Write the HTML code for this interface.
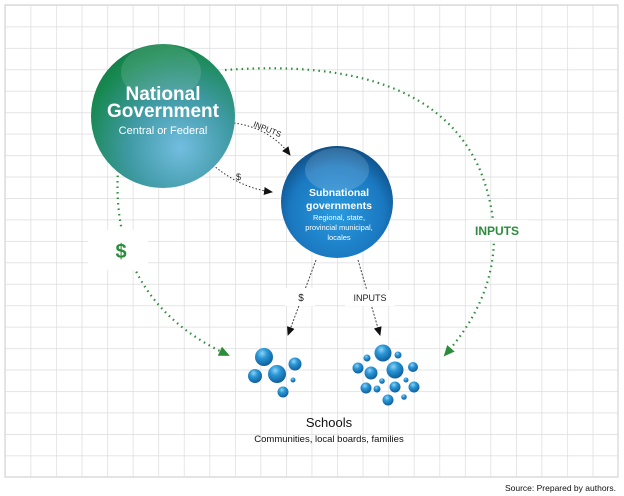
<!DOCTYPE html>
<html><head><style>body{margin:0;background:#fff}svg{display:block}</style></head><body>
<svg width="624" height="496" xmlns="http://www.w3.org/2000/svg" font-family="Liberation Sans, sans-serif">
<defs>
<pattern id="g" x="5" y="5" width="25.55" height="21.45" patternUnits="userSpaceOnUse"><path d="M0 0H25.55M0 0V21.45" stroke="#dcdcdf" stroke-width="1.4" fill="none"/></pattern>
<radialGradient id="ng" cx="0.62" cy="0.72" r="0.8"><stop offset="0" stop-color="#72bde0"/><stop offset="0.45" stop-color="#3f9aa4"/><stop offset="0.85" stop-color="#17884f"/><stop offset="1" stop-color="#127a48"/></radialGradient>
<radialGradient id="sg" cx="0.5" cy="0.6" r="0.6"><stop offset="0" stop-color="#2a9be0"/><stop offset="0.7" stop-color="#1a78c0"/><stop offset="1" stop-color="#0e4f86"/></radialGradient>
<radialGradient id="b" cx="0.4" cy="0.3" r="0.7"><stop offset="0" stop-color="#8fd3f5"/><stop offset="0.4" stop-color="#2a96d6"/><stop offset="1" stop-color="#0f5f9c"/></radialGradient>
<marker id="ak" markerUnits="userSpaceOnUse" markerWidth="10" markerHeight="10" refX="8" refY="5" orient="auto"><path d="M0 1L9 5L0 9z" fill="#111"/></marker>
<marker id="ag" markerUnits="userSpaceOnUse" markerWidth="12" markerHeight="12" refX="9" refY="6" orient="auto"><path d="M0 1L11 6L0 11z" fill="#2c8c3c"/></marker>
</defs>
<rect x="5" y="5" width="613" height="472" fill="url(#g)"/>
<path d="M5 5H618V477H5z" fill="none" stroke="#dcdcdf" stroke-width="1.4"/>
<path d="M225 70 Q430 55 480 170 Q520 270 445 355" fill="none" stroke="#2c8c3c" stroke-width="2.2" stroke-dasharray="1.5 4" marker-end="url(#ag)"/>
<path d="M118 170 Q110 300 228 355" fill="none" stroke="#2c8c3c" stroke-width="2.2" stroke-dasharray="1.5 4" marker-end="url(#ag)"/>
<rect x="88" y="230" width="60" height="40" fill="#fff"/>
<text x="121" y="258" font-size="20" font-weight="bold" fill="#2c8c3c" text-anchor="middle">$</text>
<rect x="468" y="220" width="60" height="20" fill="#fff"/>
<text x="497" y="235" font-size="12" font-weight="bold" fill="#2c8c3c" text-anchor="middle">INPUTS</text>
<path d="M234 123 Q270 128 290 155" fill="none" stroke="#333" stroke-width="1" stroke-dasharray="1.5 2" marker-end="url(#ak)"/>
<path d="M213 165 Q240 188 272 192" fill="none" stroke="#333" stroke-width="1" stroke-dasharray="1.5 2" marker-end="url(#ak)"/>
<text x="252" y="130" font-size="8" fill="#222" transform="rotate(22 262 130)">INPUTS</text>
<text x="236" y="180" font-size="9" fill="#222">$</text>
<path d="M316 260 L288 335" fill="none" stroke="#444" stroke-width="1" stroke-dasharray="2 1.5" marker-end="url(#ak)"/>
<path d="M358 260 L380 335" fill="none" stroke="#444" stroke-width="1" stroke-dasharray="2 1.5" marker-end="url(#ak)"/>
<rect x="285" y="288" width="30" height="18" fill="#fff"/>
<text x="301" y="301" font-size="10" fill="#222" text-anchor="middle">$</text>
<rect x="345" y="290" width="50" height="16" fill="#fff"/>
<text x="370" y="301" font-size="9" fill="#222" text-anchor="middle">INPUTS</text>
<circle cx="163" cy="116" r="72" fill="url(#ng)"/>
<ellipse cx="161" cy="72" rx="40" ry="28" fill="#fff" opacity="0.12"/>
<text x="163" y="100" font-size="19" font-weight="bold" fill="#fff" text-anchor="middle">National</text>
<text x="163" y="117" font-size="19" font-weight="bold" fill="#fff" text-anchor="middle">Government</text>
<text x="163" y="134" font-size="11" fill="#fff" text-anchor="middle">Central or Federal</text>
<circle cx="337" cy="202" r="56" fill="url(#sg)"/>
<ellipse cx="337" cy="170" rx="32" ry="22" fill="#fff" opacity="0.15"/>
<text x="339" y="196" font-size="10.5" font-weight="bold" fill="#fff" text-anchor="middle">Subnational</text>
<text x="339" y="209" font-size="10.5" font-weight="bold" fill="#fff" text-anchor="middle">governments</text>
<text x="339" y="220" font-size="7.5" fill="#fff" text-anchor="middle">Regional, state,</text>
<text x="339" y="230" font-size="7.5" fill="#fff" text-anchor="middle">provincial municipal,</text>
<text x="339" y="240" font-size="7.5" fill="#fff" text-anchor="middle">locales</text>
<g fill="url(#b)">
<circle cx="264" cy="357" r="9"/><circle cx="295" cy="364" r="6.5"/><circle cx="277" cy="374" r="9"/><circle cx="255" cy="376" r="7"/><circle cx="293" cy="380" r="2.5"/><circle cx="283" cy="392" r="5.5"/>
<circle cx="383" cy="353" r="8.5"/><circle cx="398" cy="355" r="3.5"/><circle cx="367" cy="358" r="3.5"/><circle cx="358" cy="368" r="5.5"/><circle cx="395" cy="370" r="8.5"/><circle cx="413" cy="367" r="5"/><circle cx="371" cy="373" r="6.5"/><circle cx="382" cy="381" r="2.8"/><circle cx="406" cy="380" r="2.5"/><circle cx="366" cy="388" r="5.5"/><circle cx="377" cy="389" r="3.5"/><circle cx="395" cy="387" r="5.5"/><circle cx="414" cy="387" r="5.5"/><circle cx="388" cy="400" r="5.5"/><circle cx="404" cy="397" r="2.8"/>
</g>
<text x="329" y="427" font-size="13" fill="#111" text-anchor="middle">Schools</text>
<text x="329" y="442" font-size="9.5" fill="#111" text-anchor="middle">Communities, local boards, families</text>
<text x="616" y="491" font-size="8.5" fill="#111" text-anchor="end">Source: Prepared by authors.</text>
</svg>
</body></html>
